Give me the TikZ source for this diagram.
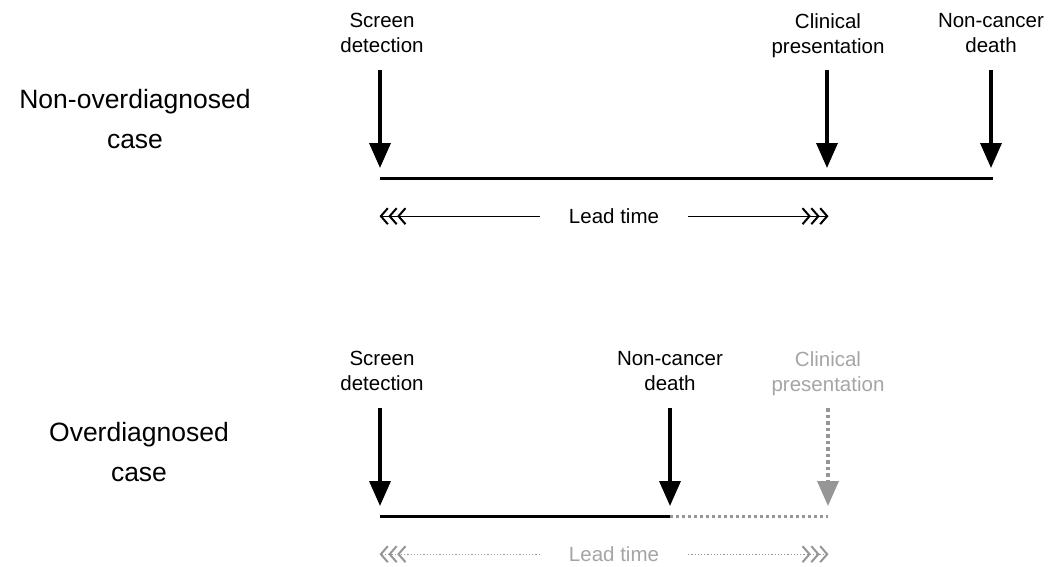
\documentclass[tikz,border=0pt]{standalone}
\usepackage{fontspec}
\setmainfont{Liberation Sans}
\usepackage{tikz}
\usetikzlibrary{arrows.meta}
\definecolor{faded}{RGB}{150,150,150}
\definecolor{fadedtext}{RGB}{165,165,165}
\tikzset{
	chev/.tip={Straight Barb[length=7pt,width=16pt,line width=2pt,sep=-0.5pt]},
	lbl/.style={anchor=north,align=center,inner sep=0pt,font=\fontsize{20.5}{25}\selectfont},
	case/.style={anchor=north,align=center,inner sep=0pt,font=\fontsize{26.5}{40}\selectfont},
	lead/.style={anchor=base,inner ysep=0pt,inner xsep=29pt,font=\fontsize{20.5}{25}\selectfont},
	evt/.style={line width=3.5pt,-{Triangle[length=25pt,width=21pt]}},
	tline/.style={line width=3pt},
	leadarr/.style={line width=1.3pt,-{chev[]chev[]chev[]}},
}
\begin{document}
\begin{tikzpicture}[x=1pt,y=-1pt]
		\useasboundingbox (0,0) rectangle (1053,566);
		
		% non-overdiagnosed case
		\node[case] (c1) at (135,89) {Non-overdiagnosed\\case};
		\node[lbl] (sd1) at (382,13) {Screen\\detection};
		\node[lbl] (cp1) at (828,13) {Clinical\\presentation};
		\node[lbl] (nd1) at (991,13) {Non-cancer\\death};
		
		\coordinate (sd1a) at (380,70);  \coordinate (sd1b) at (380,168);
		\coordinate (cp1a) at (827,70);  \coordinate (cp1b) at (827,168);
		\coordinate (nd1a) at (991,70);  \coordinate (nd1b) at (991,168);
		\draw[evt] (sd1a) -- (sd1b);
		\draw[evt] (cp1a) -- (cp1b);
		\draw[evt] (nd1a) -- (nd1b);
		
		% time line
		\coordinate (t1s) at (380,178); \coordinate (t1e) at (993,178);
		\draw[tline] (t1s) -- (t1e);
		
		% lead time
		\node[lead] (lt1) at (614,223.5) {Lead time};
		\coordinate (lt1l) at (380,216); \coordinate (lt1r) at (828,216);
		\draw[leadarr] (lt1.west) -- (lt1.west -| lt1l);
		\draw[leadarr] (lt1.east) -- (lt1.east -| lt1r);
		
		% overdiagnosed case
		\node[case] (c2) at (139,422) {Overdiagnosed\\case};
		\node[lbl] (sd2) at (382,351) {Screen\\detection};
		\node[lbl] (nd2) at (670,351) {Non-cancer\\death};
		\node[lbl,text=fadedtext] (cp2) at (828,351) {Clinical\\presentation};
		
		\coordinate (sd2a) at (380,408); \coordinate (sd2b) at (380,506);
		\coordinate (nd2a) at (670,408); \coordinate (nd2b) at (670,506);
		\coordinate (cp2a) at (828,408); \coordinate (cp2b) at (828,506);
		\draw[evt] (sd2a) -- (sd2b);
		\draw[evt] (nd2a) -- (nd2b);
		\draw[evt,faded,dash pattern=on 3.5pt off 3pt] (cp2a) -- (cp2b); % never reached
		
		% time line, cut short by death
		\coordinate (t2s) at (380,516); \coordinate (t2m) at (670,516); \coordinate (t2e) at (828,516);
		\draw[tline] (t2s) -- (t2m);
		\draw[faded,line width=3pt,dash pattern=on 3pt off 3pt] (t2m) -- (t2e);
		
		% lead time (not realised)
		\node[lead,text=fadedtext] (lt2) at (614,561.5) {Lead time};
		\coordinate (lt2l) at (380,554); \coordinate (lt2r) at (828,554);
		\draw[leadarr,faded,line width=1.2pt,dotted] (lt2.west) -- (lt2.west -| lt2l);
		\draw[leadarr,faded,line width=1.2pt,dotted] (lt2.east) -- (lt2.east -| lt2r);
	\end{tikzpicture}
\end{document}
